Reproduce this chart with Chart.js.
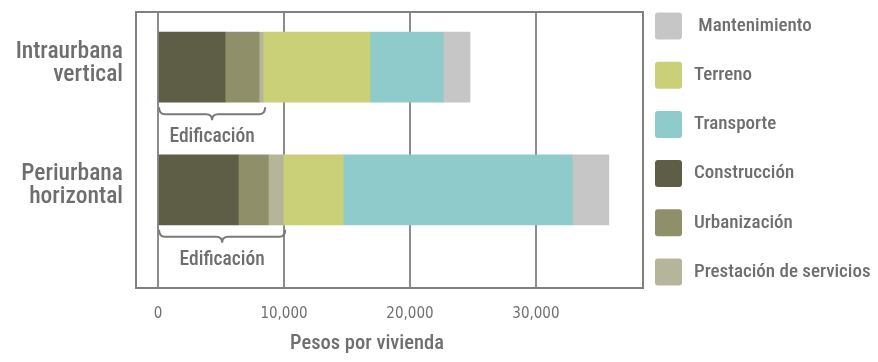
<!DOCTYPE html>
<html>
<head>
<meta charset="utf-8">
<script src="https://cdn.jsdelivr.net/npm/chart.js@4.4.1/dist/chart.umd.min.js"></script>
<style>
  html, body { margin: 0; padding: 0; background: #fff; }
  #wrap { width: 878px; height: 362px; }
</style>
</head>
<body>
<div id="wrap"><canvas id="chart-costos"></canvas></div>
<script>
// Categories (two lines each) and their positions on the index axis
const categories = [["Intraurbana", "vertical"], ["Periurbana", "horizontal"]];
const categoryPos = [0, 1];

// Series values (pesos por vivienda), stacking order left to right
const construccion = [5320, 6370];
const urbanizacion = [2700, 2380];
const prestacion = [320, 1190];
const terreno = [8490, 4760];
const transporte = [5820, 18180];
const mantenimiento = [2120, 2910];

// Tick labels on the value axis
const xTickValues = [0, 10000, 20000, 30000];

const braceLabel = "Edificación";
const axisTitle = "Pesos por vivienda";

const FONT = "Roboto, 'Open Sans', sans-serif";
const TEXT_COLOR = "#6e6e6e";

function points(values) {
  return values.map((v, i) => ({ x: v, y: categoryPos[i] }));
}

const series = [
  { label: "Construcción", data: construccion, color: "#5d5e45" },
  { label: "Urbanización", data: urbanizacion, color: "#8f8f6a" },
  { label: "Prestación de servicios", data: prestacion, color: "#b5b59a" },
  { label: "Terreno", data: terreno, color: "#c9d077" },
  { label: "Transporte", data: transporte, color: "#8fcbca" },
  { label: " Mantenimiento", data: mantenimiento, color: "#c6c6c6" },
];

// legend order top to bottom (index into series)
const legendOrder = [5, 3, 4, 0, 1, 2];

function setFont(ctx, size) {
  ctx.font = "500 " + size + "px " + FONT;
  ctx.fontStretch = "condensed";
}

// frame, category labels, braces, legend and axis title
const decorations = {
  id: "decorations",
  afterDatasetsDraw(chart) {
    const { ctx, chartArea } = chart;
    const xs = chart.scales.x;
    const ys = chart.scales.y;
    ctx.save();

    // frame around plot
    ctx.strokeStyle = "#808080";
    ctx.lineWidth = 2;
    ctx.strokeRect(chartArea.left, chartArea.top, chartArea.right - chartArea.left, chartArea.bottom - chartArea.top);

    // category labels
    ctx.fillStyle = TEXT_COLOR;
    ctx.textAlign = "right";
    ctx.textBaseline = "middle";
    categories.forEach((lines, i) => {
      const cy = ys.getPixelForValue(categoryPos[i]) - 4;
      setFont(ctx, 23.5);
      lines.forEach((line, k) => {
        ctx.fillText(line, 123, cy + (k - (lines.length - 1) / 2) * 23);
      });
    });

    // braces under "edificación" part of each bar
    const meta = chart.getDatasetMeta(2);
    meta.data.forEach((bar, i) => {
      const edif = construccion[i] + urbanizacion[i] + prestacion[i];
      const x0 = xs.getPixelForValue(0) + 1;
      const x1 = xs.getPixelForValue(edif) + 2;
      const bottom = bar.y + bar.height / 2;
      const y0 = bottom + 5;
      const yl = bottom + 12;
      const yt = bottom + 18;
      const xm = (x0 + x1) / 2;
      const r = 6;
      ctx.strokeStyle = "#7a7a7a";
      ctx.lineWidth = 2;
      ctx.beginPath();
      ctx.moveTo(x0, y0);
      ctx.quadraticCurveTo(x0, yl, x0 + r, yl);
      ctx.lineTo(xm - r, yl);
      ctx.quadraticCurveTo(xm, yl, xm, yt);
      ctx.quadraticCurveTo(xm, yl, xm + r, yl);
      ctx.lineTo(x1 - r, yl);
      ctx.quadraticCurveTo(x1, yl, x1, y0);
      ctx.stroke();

      ctx.fillStyle = TEXT_COLOR;
      setFont(ctx, 19.5);
      ctx.textAlign = "center";
      ctx.textBaseline = "middle";
      ctx.fillText(braceLabel, xm, bottom + 35);
    });

    // legend on the right
    ctx.textAlign = "left";
    ctx.textBaseline = "middle";
    legendOrder.forEach((si, k) => {
      const cy = 26 + k * 49.2;
      ctx.fillStyle = series[si].color;
      ctx.beginPath();
      ctx.roundRect(655, cy - 13.5, 27, 27, 3);
      ctx.fill();
      ctx.fillStyle = TEXT_COLOR;
      setFont(ctx, 19);
      ctx.fillText(series[si].label, 694, cy);
    });

    // axis title
    ctx.textAlign = "center";
    setFont(ctx, 20.5);
    ctx.fillText(axisTitle, 367, 344);
    ctx.restore();
  },
};

const ctx = document.getElementById("chart-costos").getContext("2d");
const chart = new Chart(ctx, {
  type: "bar",
  data: {
    datasets: series.map((s) => ({
      label: s.label,
      data: points(s.data),
      backgroundColor: s.color,
      borderWidth: 0,
      barThickness: 70,
    })),
  },
  plugins: [decorations],
  options: {
    indexAxis: "y",
    responsive: true,
    maintainAspectRatio: false,
    animation: false,
    layout: { padding: { top: 12, right: 235, left: 0, bottom: 0 } },
    plugins: {
      legend: { display: false },
      tooltip: { enabled: false },
    },
    scales: {
      x: {
        type: "linear",
        stacked: true,
        min: -1750,
        max: 38500,
        afterBuildTicks(scale) {
          scale.ticks = xTickValues.map((v) => ({ value: v }));
        },
        afterFit(scale) {
          scale.height = 74;
        },
        border: { display: false },
        grid: {
          color: "#8c8c8c",
          lineWidth: 2,
          drawTicks: false,
        },
        ticks: {
          padding: 17,
          color: TEXT_COLOR,
          font: { size: 15, family: "'DejaVu Sans Condensed', sans-serif" },
          callback: function (value) {
            return Number(value).toLocaleString("en-US");
          },
        },
      },
      y: {
        type: "linear",
        stacked: true,
        reverse: true,
        offset: false,
        min: -0.45,
        max: 1.8,
        afterFit(scale) {
          scale.width = 136;
        },
        border: { display: false },
        grid: { display: false, drawTicks: false },
        ticks: { display: false },
      },
    },
  },
});
</script>
</body>
</html>
